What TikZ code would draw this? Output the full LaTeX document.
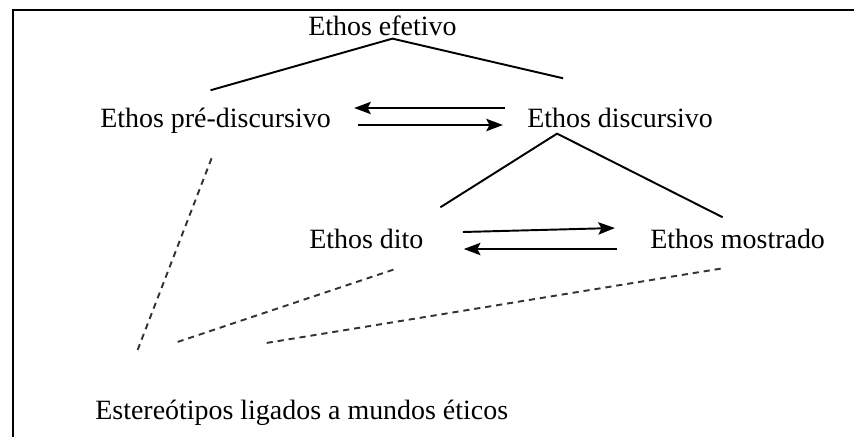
\documentclass[tikz,border=0pt]{standalone}
\usepackage{fontspec}
\setmainfont{Liberation Serif}
\usetikzlibrary{arrows.meta, positioning}

\begin{document}
\begin{tikzpicture}[x=0.02cm, y=-0.02cm,
    txt/.style={inner sep=0pt, anchor=base west, font=\fontsize{15.9}{19}\selectfont},
    traco/.style={line width=1.1pt},
    seta/.style={line width=1.1pt, -{Stealth[length=9.5pt, width=7pt, inset=1.8pt]}},
    tracejado/.style={line width=1.1pt, black!80, dash pattern=on 3.5pt off 2.8pt}]

\useasboundingbox (0,0) rectangle (854,437);

% moldura
\draw[line width=1.4pt] (13,437) -- (13,10) -- (854,10);

\node[txt] (efetivo) at (308,35) {Ethos efetivo};
\node[txt] (pre) at (100,127) {Ethos pré-discursivo};
\node[txt] (disc) at (527,127) {Ethos discursivo};
\node[txt] (dito) at (309,248) {Ethos dito};
\node[txt] (mostr) at (650,248) {Ethos mostrado};
\node[txt] (estereo) at (95,419) {Estereótipos ligados a mundos éticos};

\draw[traco] ([shift={(-5,-17)}]pre.north) -- ([shift={(10,3)}]efetivo.south)
    -- ([shift={(-57,-29)}]disc.north);
\draw[traco] ([shift={(74,-21)}]dito.north) -- ([shift={(-63,6)}]disc.south)
    -- ([shift={(-15,-11)}]mostr.north);

\draw[seta] ([shift={(-22,-19)}]disc.base west) -- ([shift={(23,-19)}]pre.base east);
\draw[seta] ([shift={(27,-2)}]pre.base east) -- ([shift={(-24,-2)}]disc.base west);
\draw[seta] ([shift={(39,-16)}]dito.base east) -- ([shift={(-35,-20)}]mostr.base west);
\draw[seta] ([shift={(-33,1)}]mostr.base west) -- ([shift={(40,1)}]dito.base east);

\draw[tracejado] ([shift={(-4,25)}]pre.south) -- ([shift={(-165,-47)}]estereo.north);
\draw[tracejado] ([shift={(27,21)}]dito.south) -- ([shift={(-125,-57)}]estereo.north);
\draw[tracejado] ([shift={(-17,20)}]mostr.south) -- ([shift={(-37,-56)}]estereo.north);

\end{tikzpicture}
\end{document}
